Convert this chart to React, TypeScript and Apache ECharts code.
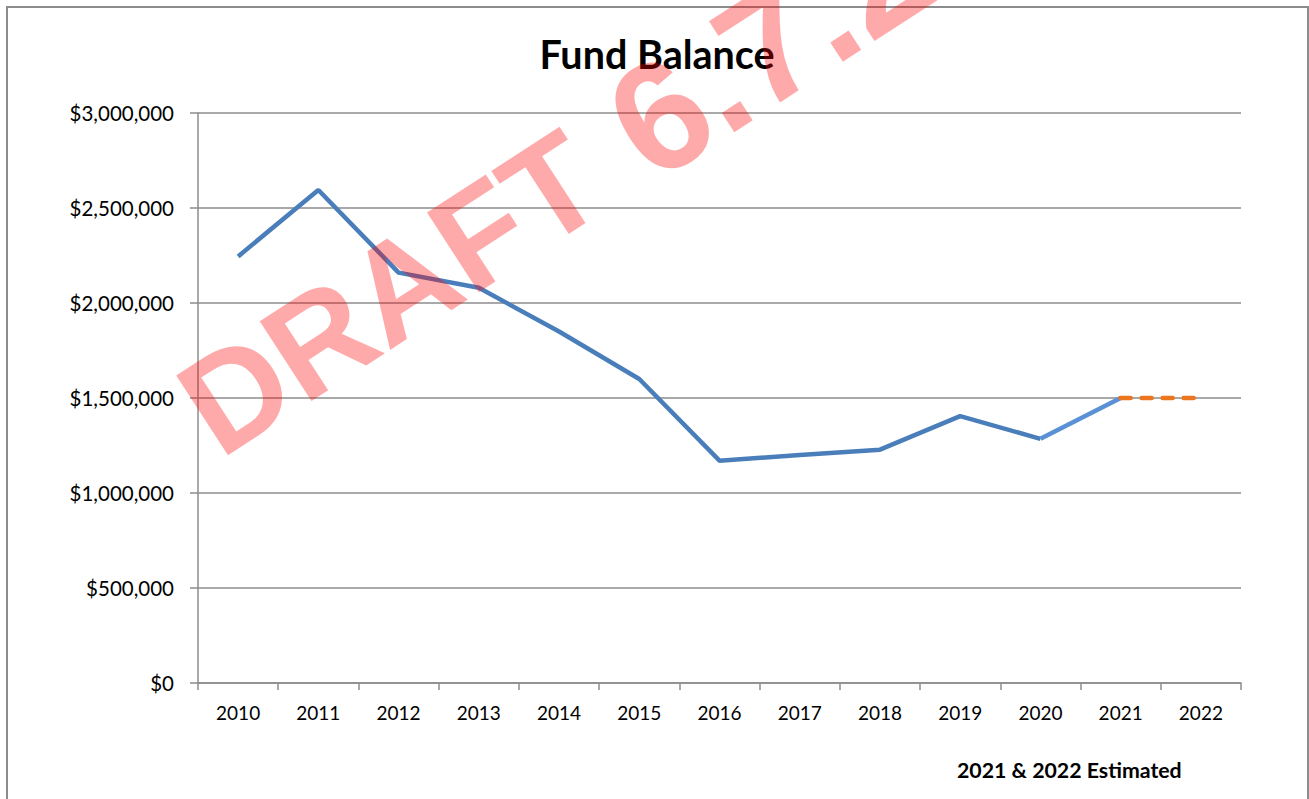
import React, { useEffect, useRef } from "react";
import * as echarts from "echarts";

const years = ["2010", "2011", "2012", "2013", "2014", "2015", "2016", "2017", "2018", "2019", "2020", "2021", "2022"];
const actualBalance = [2245000, 2595000, 2160000, 2080000, 1850000, 1600000, 1170000, 1200000, 1228000, 1405000, 1285000, null, null];
const transitionBalance = [null, null, null, null, null, null, null, null, null, null, 1285000, 1500000, null];
const estimatedBalance = [null, null, null, null, null, null, null, null, null, null, null, 1500000, 1500000];
const yTicks = [0, 500000, 1000000, 1500000, 2000000, 2500000, 3000000];
const titleText = "Fund Balance";
const noteText = "2021 & 2022 Estimated";
const watermarkWord = "DRAFT";
const watermarkVersion = "6.7.21";

const fmt = (v: number) => "$" + Math.round(v).toLocaleString("en-US");

export default function App() {
  const ref = useRef<HTMLDivElement>(null);
  useEffect(() => {
    if (!ref.current) return;
    const chart = echarts.init(ref.current, null, { renderer: "svg" });
    const gray = "#8c8c8c";
    const rot = (33 * Math.PI) / 180;
    const wmStyle = {
      fontFamily: "Liberation Sans",
      fontWeight: "bold",
      fill: "rgba(255,0,0,0.335)",
      textAlign: "left",
      textVerticalAlign: "middle",
    };
    chart.setOption({
      animation: false,
      backgroundColor: "#ffffff",
      title: {
        text: titleText,
        left: 652,
        top: 28,
        textAlign: "center",
        textStyle: { fontFamily: "Lato", fontWeight: "bold", fontSize: 39.5, color: "#000" },
      },
      grid: { left: 198, right: 68, top: 113, bottom: 116, containLabel: false },
      xAxis: {
        type: "category",
        data: years,
        boundaryGap: true,
        axisLine: { lineStyle: { color: gray, width: 1.5 } },
        axisTick: { show: true, length: 7, lineStyle: { color: gray, width: 1.5 } },
        axisLabel: { margin: 20, fontFamily: "Lato", fontSize: 19, color: "#000" },
      },
      yAxis: {
        type: "value",
        min: yTicks[0],
        max: yTicks[yTicks.length - 1],
        interval: yTicks[1] - yTicks[0],
        axisLine: { show: true, lineStyle: { color: gray, width: 1.5 } },
        axisTick: { show: true, length: 8, lineStyle: { color: gray, width: 1.5 } },
        splitLine: { show: true, lineStyle: { color: gray, width: 1.5 } },
        axisLabel: { margin: 24, fontFamily: "Lato", fontSize: 20.5, color: "#000", formatter: fmt },
      },
      series: [
        {
          type: "line",
          data: actualBalance,
          showSymbol: false,
          symbol: "none",
          lineStyle: { color: "#4a7ebb", width: 4.5 },
          z: 3,
        },
        {
          type: "line",
          data: transitionBalance,
          showSymbol: false,
          symbol: "none",
          lineStyle: { color: "#5a91d4", width: 4.5 },
          z: 3,
        },
        {
          type: "line",
          data: estimatedBalance,
          showSymbol: false,
          symbol: "none",
          lineStyle: { color: "#ec7520", width: 4.5, type: [10, 11], cap: "round" },
          z: 4,
        },
      ],
      graphic: [
        {
          type: "rect",
          shape: { x: 7, y: 7, width: 1301, height: 830 },
          style: { fill: "none", stroke: gray, lineWidth: 2 },
          z: 1,
          silent: true,
        },
        {
          type: "text",
          left: 957,
          top: 759,
          style: { text: noteText, fontFamily: "Lato", fontWeight: "bold", fontSize: 21.3, fill: "#000" },
          z: 5,
        },
        {
          type: "text",
          x: 194,
          y: 420,
          rotation: rot,
          style: { ...wmStyle, text: watermarkWord, fontSize: 138 },
          z: 100,
          silent: true,
        },
        {
          type: "text",
          x: 624,
          y: 140,
          rotation: rot,
          style: { ...wmStyle, text: watermarkVersion, fontSize: 155 },
          z: 100,
          silent: true,
        },
      ],
    });
    return () => chart.dispose();
  }, []);
  return <div ref={ref} style={{ position: "absolute", left: 0, top: 0, width: 1309, height: 799 }} />;
}
